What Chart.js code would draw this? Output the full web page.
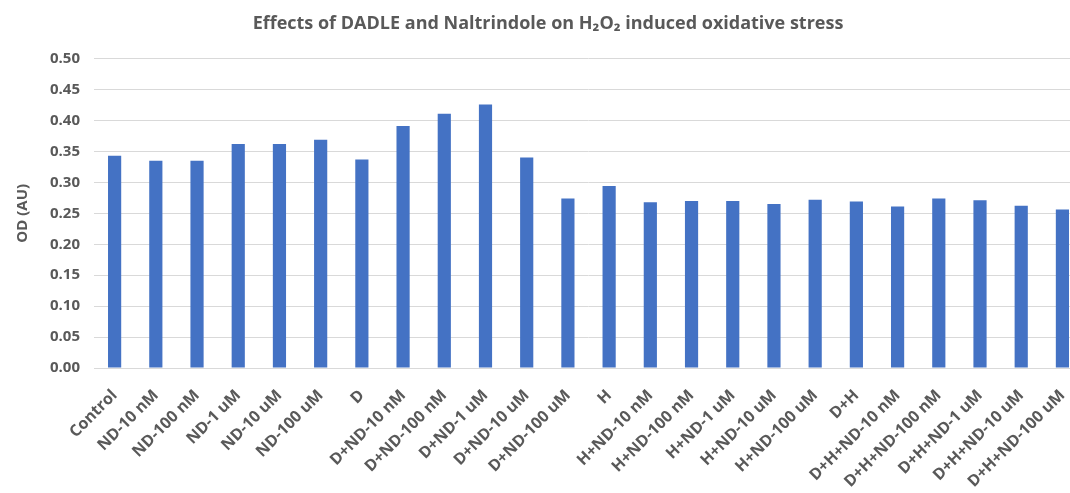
<!DOCTYPE html>
<html>
<head>
<meta charset="utf-8">
<script src="https://cdn.jsdelivr.net/npm/chart.js@4"></script>
<style>
  html, body { margin: 0; padding: 0; background: #fff; overflow: hidden; }
  #wrap { width: 1086px; height: 493px; }
</style>
</head>
<body>
<div id="wrap"><canvas id="myChart"></canvas></div>
<script>
const categories = [
  "Control", "ND-10 nM", "ND-100 nM", "ND-1 uM", "ND-10 uM", "ND-100 uM",
  "D", "D+ND-10 nM", "D+ND-100 nM", "D+ND-1 uM", "D+ND-10 uM", "D+ND-100 uM",
  "H", "H+ND-10 nM", "H+ND-100 nM", "H+ND-1 uM", "H+ND-10 uM", "H+ND-100 uM",
  "D+H", "D+H+ND-10 nM", "D+H+ND-100 nM", "D+H+ND-1 uM", "D+H+ND-10 uM", "D+H+ND-100 uM"
];
const odValues = [
  0.343, 0.335, 0.335, 0.362, 0.362, 0.369,
  0.337, 0.391, 0.411, 0.426, 0.340, 0.274,
  0.294, 0.268, 0.270, 0.270, 0.265, 0.272,
  0.269, 0.261, 0.274, 0.271, 0.262, 0.256
];
const yTicks = [0, 0.05, 0.1, 0.15, 0.2, 0.25, 0.3, 0.35, 0.4, 0.45, 0.5];

const greyText = "#595959";
const fontFamily = "'Open Sans', 'Liberation Sans', sans-serif";

const config = {
  type: "bar",
  data: {
    labels: categories,
    datasets: [
      {
        label: "OD (AU)",
        data: odValues,
        backgroundColor: "#4472C4",
        barPercentage: 0.32,
        categoryPercentage: 1.0,
      },
    ],
  },
  options: {
    responsive: true,
    maintainAspectRatio: false,
    animation: false,
    layout: { padding: { left: 10, right: 0, top: 2, bottom: 0 } },
    plugins: {
      legend: { display: false },
      tooltip: { enabled: false },
      title: {
        display: true,
        text: "Effects of DADLE and Naltrindole on H₂O₂ induced oxidative stress",
        color: greyText,
        font: { family: fontFamily, size: 18, weight: "bold" },
        padding: { top: 11, bottom: 24 },
      },
    },
    scales: {
      x: {
        grid: { display: false },
        border: { color: "#d9d9d9" },
        afterFit: (scale) => {
          // labels run off the bottom edge, as in the original picture
          scale.height = 125;
        },
        ticks: {
          color: greyText,
          font: { family: fontFamily, size: 16, weight: "bold" },
          maxRotation: 45,
          minRotation: 45,
          autoSkip: false,
          padding: 10,
        },
      },
      y: {
        min: 0,
        max: 0.5,
        afterBuildTicks: (axis) => {
          axis.ticks = yTicks.map((v) => ({ value: v }));
        },
        grid: { color: "#d9d9d9", drawTicks: false },
        border: { display: false },
        ticks: {
          color: greyText,
          font: { family: fontFamily, size: 15, weight: "bold" },
          padding: 14,
          callback: (v) => Number(v).toFixed(2),
        },
        title: {
          display: true,
          text: "OD (AU)",
          color: greyText,
          font: { family: fontFamily, size: 15, weight: "bold" },
          padding: { bottom: 4 },
        },
      },
    },
  },
};

const canvas = document.getElementById("myChart");
new Chart(canvas, config);
</script>
</body>
</html>
